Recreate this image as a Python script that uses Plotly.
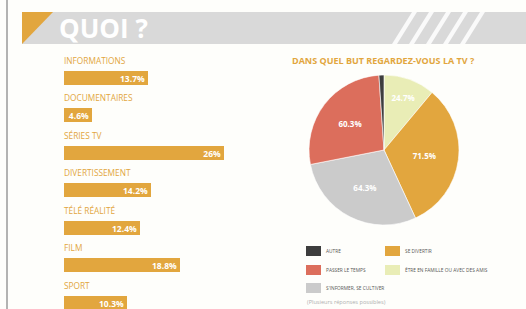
import plotly.graph_objects as go

W, H = 526, 309

# ---- data ----
categories = ["INFORMATIONS", "DOCUMENTAIRES", "SÉRIES TV", "DIVERTISSEMENT",
              "TÉLÉ RÉALITÉ", "FILM", "SPORT"]
shares = [13.7, 4.6, 26, 14.2, 12.4, 18.8, 10.3]
share_labels = ["13.7%", "4.6%", "26%", "14.2%", "12.4%", "18.8%", "10.3%"]

pie_labels = ["ÊTRE EN FAMILLE OU AVEC DES AMIS", "SE DIVERTIR",
              "S'INFORMER, SE CULTIVER", "PASSER LE TEMPS", "AUTRE"]
pie_values = [24.7, 71.5, 64.3, 60.3, 2.4]
pie_text = ["24.7%", "71.5%", "64.3%", "60.3%", ""]
pie_colors = ["#e9edb6", "#e2a63e", "#cbcbcb", "#dc6e5c", "#3d3d3d"]

legend_order = ["AUTRE", "SE DIVERTIR", "PASSER LE TEMPS",
                "ÊTRE EN FAMILLE OU AVEC DES AMIS", "S'INFORMER, SE CULTIVER"]

ORANGE = "#e2a63e"
BG = "#fefefb"


def px(x):
    return x / W


def py(y):
    return 1 - y / H


fig = go.Figure()

fig.add_trace(go.Bar(
    x=shares, y=categories, orientation="h",
    marker=dict(color=ORANGE, line=dict(width=0)),
    width=0.38,
    text=[f"<b>{t}</b>" for t in share_labels],
    textposition="inside", insidetextanchor="end",
    textfont=dict(color="white", size=8.5, family="Open Sans"),
    constraintext="none",
    xaxis="x", yaxis="y", showlegend=False, hoverinfo="skip",
))

fig.add_trace(go.Pie(
    labels=pie_labels, values=pie_values,
    text=[f"<b>{t}</b>" if t else "" for t in pie_text],
    textinfo="text", textposition="inside",
    insidetextfont=dict(color="white", size=8, family="Open Sans"),
    marker=dict(colors=pie_colors, line=dict(color="white", width=0.6)),
    sort=False, direction="clockwise", rotation=0,
    domain=dict(x=[px(309), px(459)], y=[py(225), py(75)]),
    showlegend=False, hoverinfo="skip",
))

annotations = []
for c in categories:
    annotations.append(dict(
        x=0, y=c, xref="x", yref="y", text=c, showarrow=False,
        xanchor="left", yanchor="middle", yshift=18, xshift=-2,
        font=dict(color=ORANGE, size=8.3, family="Open Sans"),
    ))

annotations.append(dict(
    x=px(383), y=py(61), xref="paper", yref="paper",
    text="<b>DANS QUEL BUT REGARDEZ-VOUS LA TV ?</b>", showarrow=False,
    xanchor="center", yanchor="middle",
    font=dict(color=ORANGE, size=9, family="Open Sans"),
))
annotations.append(dict(
    x=px(57), y=py(28), xref="paper", yref="paper",
    text="<b>QUOI ?</b>", showarrow=False, xanchor="left", yanchor="middle",
    font=dict(color="white", size=26, family="Open Sans"),
))

shapes = [
    # left border line
    dict(type="line", xref="paper", yref="paper", x0=px(7), x1=px(7),
         y0=0, y1=1, line=dict(color="#9a9a9a", width=1.5)),
    # header band
    dict(type="rect", xref="paper", yref="paper", x0=px(22), x1=1,
         y0=py(44), y1=py(12), fillcolor="#d9d9d9", line=dict(width=0)),
    # orange triangle
    dict(type="path", xref="paper", yref="paper",
         path=f"M {px(22)} {py(12)} L {px(53)} {py(12)} L {px(22)} {py(44)} Z",
         fillcolor=ORANGE, line=dict(width=0)),
]
# diagonal stripes in header
for sx in [392, 409, 426, 443, 460]:
    shapes.append(dict(
        type="path", xref="paper", yref="paper",
        path=(f"M {px(sx)} {py(44)} L {px(sx + 5)} {py(44)} "
              f"L {px(sx + 25)} {py(12)} L {px(sx + 20)} {py(12)} Z"),
        fillcolor="rgba(255,255,255,0.85)", line=dict(width=0)))

# custom legend
legend_pos = [(306, 251), (385, 251), (306, 270), (385, 270), (306, 288)]
for lab, (lx, ly) in zip(legend_order, legend_pos):
    col = pie_colors[pie_labels.index(lab)]
    shapes.append(dict(type="rect", xref="paper", yref="paper",
                       x0=px(lx), x1=px(lx + 15), y0=py(ly + 5), y1=py(ly - 5),
                       fillcolor=col, line=dict(width=0)))
    annotations.append(dict(
        x=px(lx + 18), y=py(ly), xref="paper", yref="paper", text=lab,
        showarrow=False, xanchor="left", yanchor="middle",
        font=dict(color="#555555", size=4.8, family="Open Sans")))
annotations.append(dict(
    x=px(305), y=py(302), xref="paper", yref="paper",
    text="(Plusieurs réponses possibles)", showarrow=False,
    xanchor="left", yanchor="middle",
    font=dict(color="#b0b0b0", size=5.6, family="Open Sans")))

# y: bars centred at 78 + 37.5*i px
y_top_px = 78 - 37.5 * 0.5
y_bottom_idx = (H - 78) / 37.5

fig.update_layout(
    width=W, height=H, margin=dict(l=0, r=0, t=0, b=0),
    paper_bgcolor=BG, plot_bgcolor="rgba(0,0,0,0)",
    xaxis=dict(domain=[px(64), px(64 + 6.15 * 30)], range=[0, 30],
               visible=False, fixedrange=True),
    yaxis=dict(domain=[0, py(y_top_px)], range=[y_bottom_idx, -0.5],
               visible=False, categoryorder="array", categoryarray=categories,
               fixedrange=True),
    shapes=shapes, annotations=annotations,
    bargap=0,
)

fig.write_html("out.html",
               config={"displayModeBar": False},
               post_script="document.body.style.margin='0';"
                           "document.body.style.background='" + BG + "';")
